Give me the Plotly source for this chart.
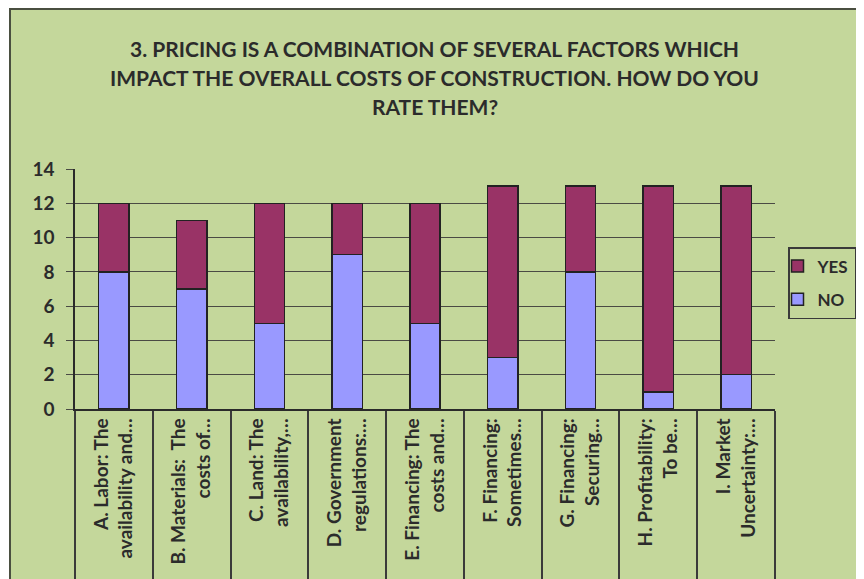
import plotly.graph_objects as go

categorias = [
    "A. Labor: The<br>availability and…",
    "B. Materials:  The<br>costs of…",
    "C. Land: The<br>availability,…",
    "D. Government<br>regulations:…",
    "E. Financing: The<br>costs and…",
    "F. Financing:<br>Sometimes…",
    "G. Financing:<br>Securing…",
    "H. Profitability:<br>To be…",
    "I. Market<br>Uncertainty:…",
]
no_vals = [8, 7, 5, 9, 5, 3, 8, 1, 2]
yes_vals = [4, 4, 7, 3, 7, 10, 5, 12, 11]
y_ticks = [0, 2, 4, 6, 8, 10, 12, 14]
titulo = [
    "3. PRICING IS A COMBINATION OF SEVERAL FACTORS WHICH",
    "IMPACT THE OVERALL COSTS OF CONSTRUCTION. HOW DO YOU",
    "RATE THEM?",
]

FONTE = "Lato, 'Open Sans', sans-serif"
TEXTO = "#2b2b2b"

W, H = 864, 579
OFF = 8  # margem padrão do body da página html

# plot area na página: x 75..775, y 169..409
ML, MT = 75 - OFF, 169 - OFF
MR, MB = W - (775 - OFF), H - (409 - OFF)
PW, PH = W - ML - MR, H - MT - MB


def py(pix):
    """pixel da página (a partir do topo) -> coordenada paper"""
    return (H - (pix - OFF) - MB) / PH


def px(pix):
    return (pix - OFF - ML) / PW


fig = go.Figure()

fig.add_trace(go.Bar(
    x=categorias, y=no_vals, name="NO",
    marker=dict(color="#9999ff", line=dict(color="#222222", width=1.5)),
    legendgroup="no", legendrank=2,
))
fig.add_trace(go.Bar(
    x=categorias, y=yes_vals, name="YES",
    marker=dict(color="#993366", line=dict(color="#222222", width=1.5)),
    legendgroup="yes", legendrank=1,
))

# área do gráfico (fundo verde com borda)
fig.add_shape(
    type="rect", xref="paper", yref="paper", layer="below",
    x0=px(10), x1=1.5,
    y0=-1.5, y1=py(9),
    fillcolor="#c4d79b", line=dict(color="#4a4f40", width=2),
)

# título em três linhas
for i, linha in enumerate(titulo):
    fig.add_annotation(
        text=f"<b>{linha}</b>", xref="paper", yref="paper",
        x=px(435), y=py(48 + 29 * i), xanchor="center", yanchor="middle",
        showarrow=False,
        font=dict(family=FONTE, size=21, color=TEXTO),
    )

fig.update_layout(
    width=W, height=H,
    margin=dict(l=ML, r=MR, t=MT, b=MB, autoexpand=False),
    paper_bgcolor="white",
    plot_bgcolor="rgba(0,0,0,0)",
    barmode="stack",
    bargap=0.61,
    font=dict(family=FONTE, color=TEXTO, size=14),
    legend=dict(
        x=px(788), xanchor="left",
        y=py(283), yanchor="middle",
        bordercolor="#3a3a3a", borderwidth=1.5,
        bgcolor="rgba(0,0,0,0)",
        traceorder="grouped", tracegroupgap=8,
        indentation=-12,
        font=dict(family=FONTE, size=17, color=TEXTO, weight="bold"),
        itemwidth=30,
    ),
    showlegend=True,
)

fig.update_yaxes(
    range=[0, 14], tickvals=y_ticks,
    showgrid=True, gridcolor="#4a4a44", gridwidth=1,
    zeroline=False,
    showline=True, linecolor="#2a2a2a", linewidth=1.5,
    ticks="outside", ticklen=7, tickcolor="#4a4a44",
    ticklabelstandoff=8,
    tickfont=dict(family=FONTE, size=19, color=TEXTO, weight="bold"),
)
fig.update_xaxes(
    showline=True, linecolor="#2a2a2a", linewidth=1.5,
    ticks="outside", tickson="boundaries", ticklen=175, tickcolor="#3a3a3a",
    tickwidth=1.5,
    tickangle=-90,
    tickfont=dict(family=FONTE, size=19, color=TEXTO, weight="bold"),
    showgrid=False,
)

fig.write_html("out.html")
